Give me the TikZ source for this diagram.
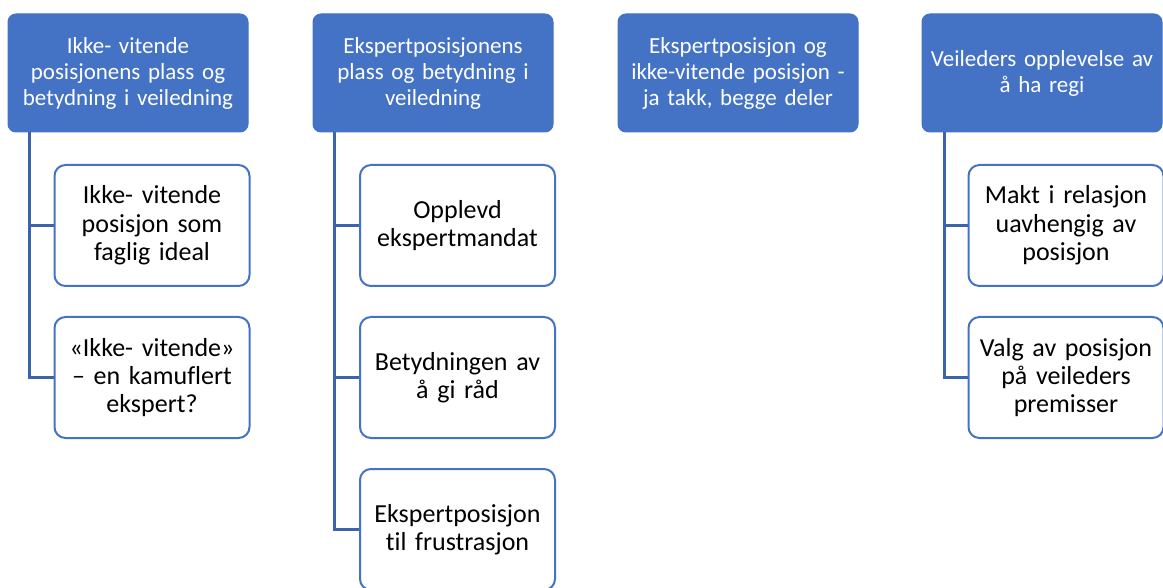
\documentclass[tikz,border=0pt]{standalone}
\usepackage{fontspec}
\setmainfont[Ligatures=NoCommon]{Carlito}
\definecolor{acc}{HTML}{4472C4}
\definecolor{conn}{HTML}{3B64AD}
\tikzset{
  topbox/.style={draw=acc, fill=acc, line width=1pt, rounded corners=8pt, minimum width=240pt, minimum height=118pt, text width=238pt, align=center, text=white, font=\fontsize{23}{26}\selectfont, inner sep=0pt},
  childbox/.style={draw=acc, fill=white, line width=2pt, rounded corners=11pt, minimum width=195pt, minimum height=121pt, text width=190pt, align=center, text=black, font=\fontsize{26}{28.3}\selectfont, inner sep=0pt},
  link/.style={draw=conn, line width=2.5pt}
}
\begin{document}
\begin{tikzpicture}[x=1pt,y=-1pt]
\useasboundingbox (0,0) rectangle (1163,588);
\node[topbox] (t1) at (128,73) {Ikke- vitende\\posisjonens plass og\\betydning i veiledning};
\node[topbox] (t2) at (433,73) {Ekspertposisjonens\\plass og betydning i\\veiledning};
\node[topbox] (t3) at (738,73) {Ekspertposisjon og\\ikke-vitende posisjon -\\ja takk, begge deler};
\node[topbox] (t4) at (1042,73) {Veileders opplevelse av\\å ha regi};

\node[childbox] (a1) at (152,225.5) {Ikke- vitende\\posisjon som\\faglig ideal};
\node[childbox] (a2) at (152,377.5) {«Ikke- vitende»\\– en kamuflert\\ekspert?};
\node[childbox] (b1) at (457.5,225.5) {Opplevd\\ekspertmandat};
\node[childbox] (b2) at (457.5,377.5) {Betydningen av\\å gi råd};
\node[childbox] (b3) at (457.5,529.5) {Ekspertposisjon\\til frustrasjon};
\node[childbox] (d1) at (1066,225.5) {Makt i relasjon\\uavhengig av\\posisjon};
\node[childbox] (d2) at (1066,377.5) {Valg av posisjon\\på veileders\\premisser};

\draw[link] ([xshift=22pt]t1.south west) |- (a1.west);
\draw[link] ([xshift=22pt]t1.south west) |- (a2.west);
\draw[link] ([xshift=22pt]t2.south west) |- (b1.west);
\draw[link] ([xshift=22pt]t2.south west) |- (b2.west);
\draw[link] ([xshift=22pt]t2.south west) |- (b3.west);
\draw[link] ([xshift=23pt]t4.south west) |- (d1.west);
\draw[link] ([xshift=23pt]t4.south west) |- (d2.west);
\end{tikzpicture}
\end{document}
